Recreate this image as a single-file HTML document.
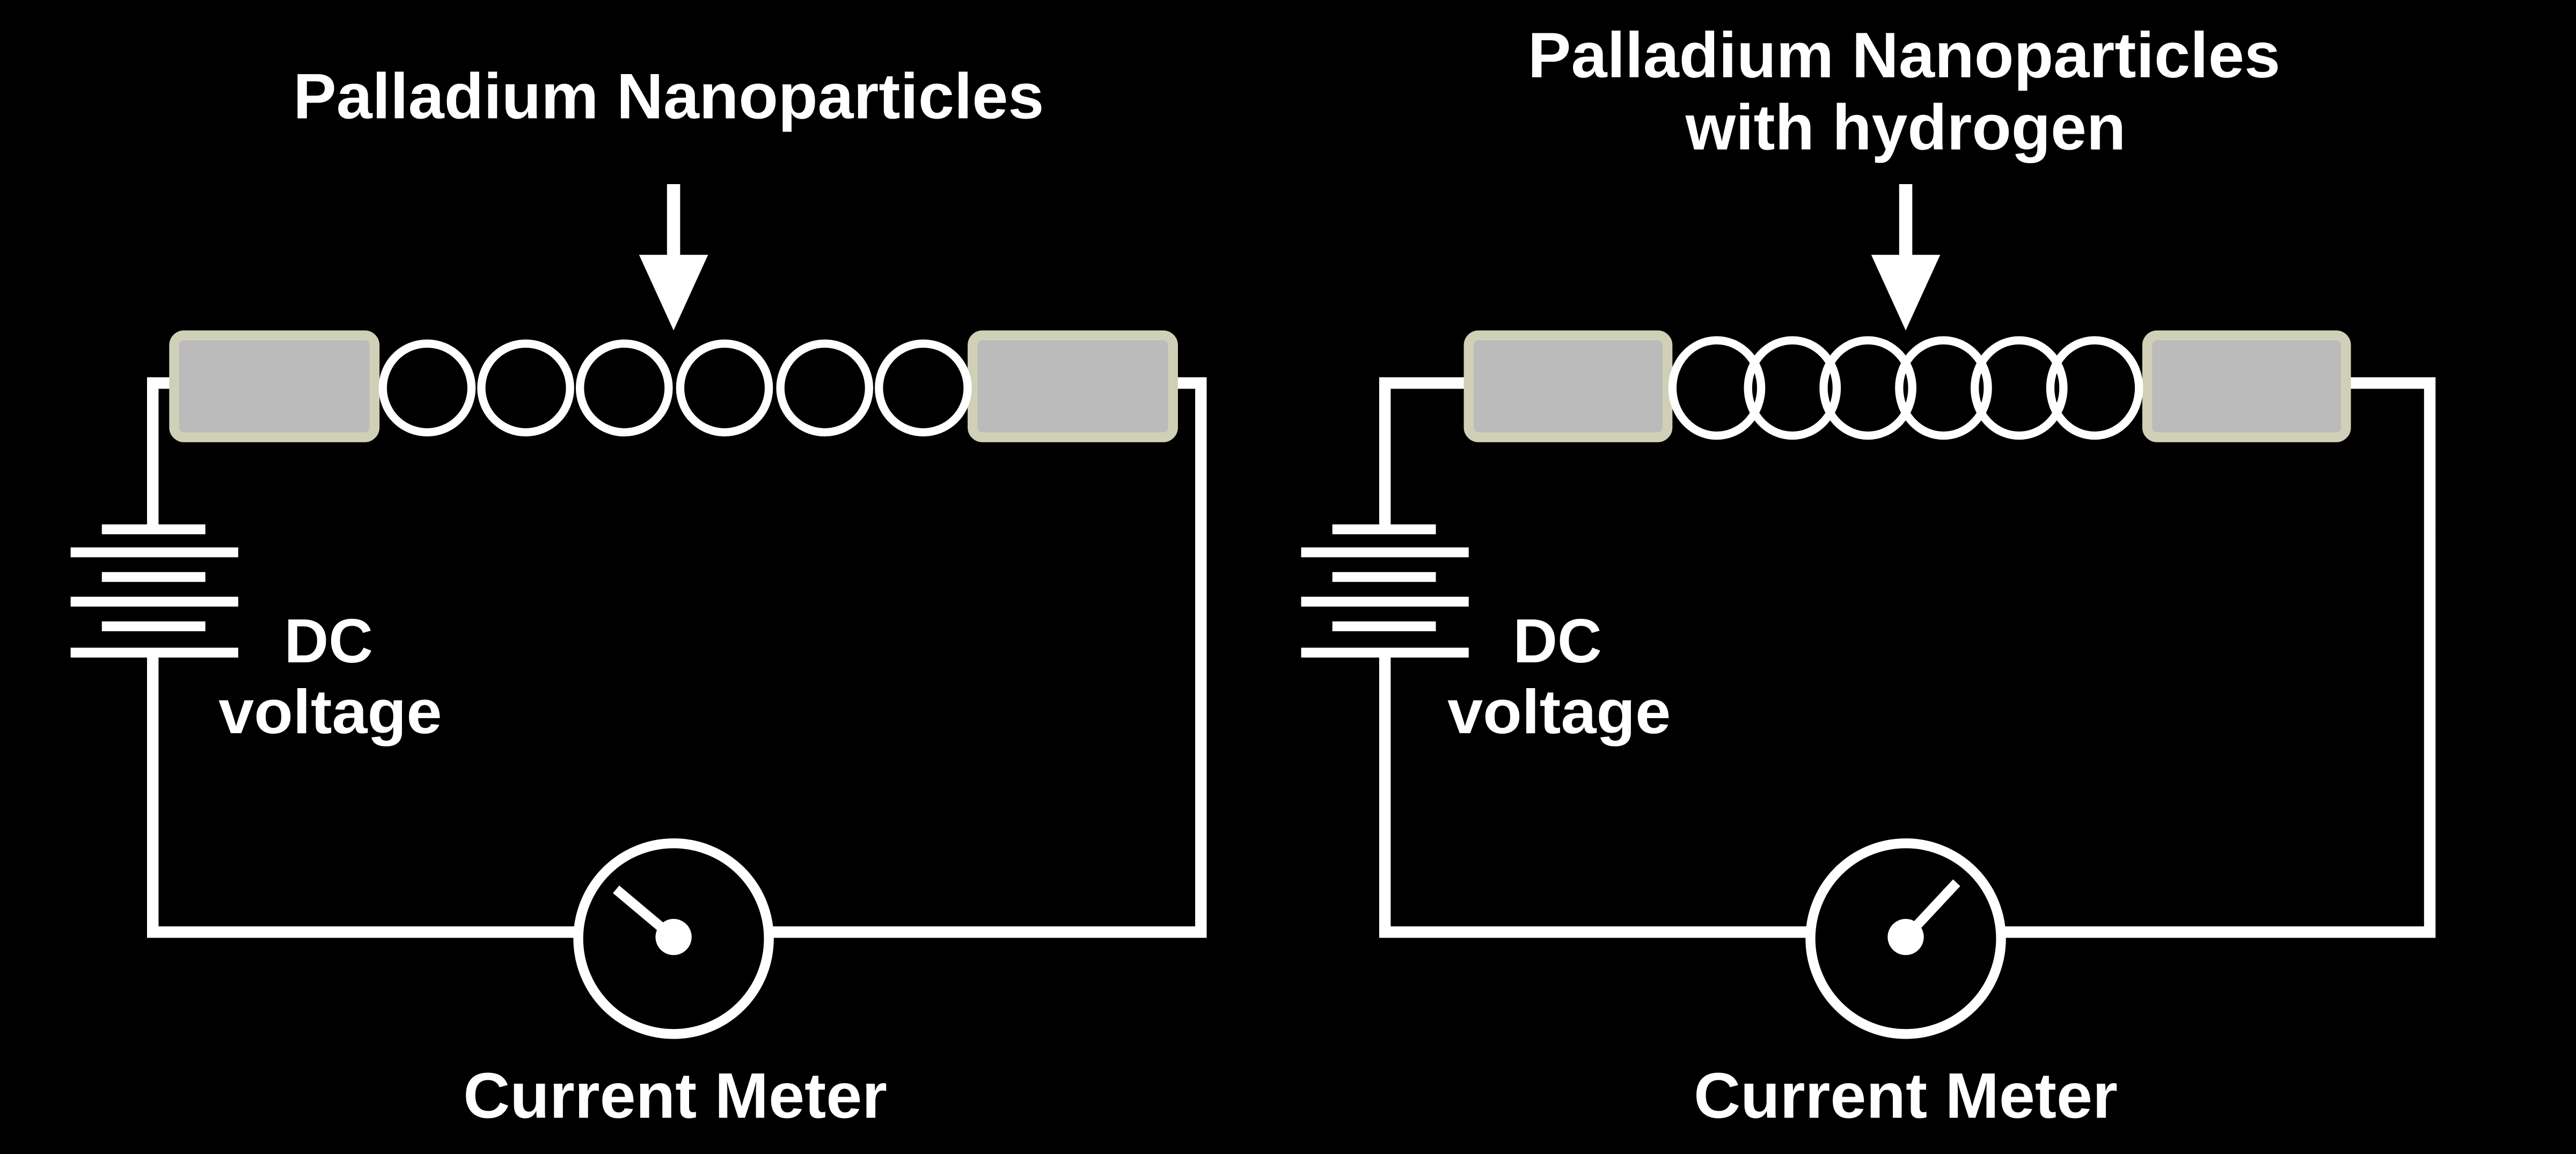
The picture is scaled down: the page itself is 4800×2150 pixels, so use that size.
<!DOCTYPE html>
<html><head><meta charset="utf-8"><style>
html,body{margin:0;padding:0;background:#000;}
svg{display:block;}
text{font-family:"Liberation Sans",sans-serif;font-weight:bold;fill:#fff;}
</style></head><body>
<svg width="4800" height="2150" viewBox="0 0 1568 702" preserveAspectRatio="none" xmlns="http://www.w3.org/2000/svg">
<rect width="1568" height="702" fill="#000"/>
<!-- LEFT -->
<g>
<polyline points="93,322 93,233 731,233 731,567 93,567 93,397" fill="none" stroke="#fff" stroke-width="7"/>
<rect x="228" y="225" width="366" height="16" fill="#000"/>
<rect x="106" y="204" width="122" height="62" rx="6" fill="#bbb" stroke="#d0d0b8" stroke-width="6"/>
<rect x="592" y="204" width="122" height="62" rx="6" fill="#bbb" stroke="#d0d0b8" stroke-width="6"/>
<g fill="none" stroke="#fff" stroke-width="5">
<ellipse cx="260" cy="236" rx="27" ry="27"/>
<ellipse cx="320" cy="236" rx="27" ry="27"/>
<ellipse cx="380" cy="236" rx="27" ry="27"/>
<ellipse cx="441" cy="236" rx="27" ry="27"/>
<ellipse cx="502" cy="236" rx="27" ry="27"/>
<ellipse cx="562" cy="236" rx="27" ry="27"/>
</g>
<rect x="406" y="112" width="8" height="48" fill="#fff"/>
<polygon points="389,155 431,155 410,201" fill="#fff"/>
<g fill="#fff">
<rect x="62" y="319" width="63" height="6"/>
<rect x="43" y="333" width="102" height="6"/>
<rect x="62" y="348" width="63" height="6"/>
<rect x="43" y="363" width="102" height="6"/>
<rect x="62" y="378" width="63" height="6"/>
<rect x="43" y="394" width="102" height="6"/>
</g>
<circle cx="410" cy="571" r="58" fill="#000" stroke="#fff" stroke-width="6"/>
<line x1="375" y1="541" x2="406" y2="567" stroke="#fff" stroke-width="6"/>
<circle cx="410" cy="570" r="11" fill="#fff"/>
<text x="407" y="72" font-size="39" text-anchor="middle" textLength="457" lengthAdjust="spacingAndGlyphs">Palladium Nanoparticles</text>
<text x="173" y="403" font-size="38" textLength="54" lengthAdjust="spacingAndGlyphs">DC</text>
<text x="133" y="446" font-size="38" textLength="136" lengthAdjust="spacingAndGlyphs">voltage</text>
<text x="411" y="680" font-size="39" text-anchor="middle" textLength="258" lengthAdjust="spacingAndGlyphs">Current Meter</text>
</g>
<!-- RIGHT -->
<g>
<polyline points="843,322 843,233 1479,233 1479,567 843,567 843,397" fill="none" stroke="#fff" stroke-width="7"/>
<rect x="1015" y="225" width="294" height="16" fill="#000"/>
<rect x="894" y="204" width="121" height="62" rx="6" fill="#bbb" stroke="#d0d0b8" stroke-width="6"/>
<rect x="1307" y="204" width="121" height="62" rx="6" fill="#bbb" stroke="#d0d0b8" stroke-width="6"/>
<g fill="none" stroke="#fff" stroke-width="5">
<ellipse cx="1045" cy="236" rx="27" ry="29"/>
<ellipse cx="1091" cy="236" rx="27" ry="29"/>
<ellipse cx="1137" cy="236" rx="27" ry="29"/>
<ellipse cx="1183" cy="236" rx="27" ry="29"/>
<ellipse cx="1229" cy="236" rx="27" ry="29"/>
<ellipse cx="1275" cy="236" rx="27" ry="29"/>
</g>
<rect x="1156" y="112" width="8" height="48" fill="#fff"/>
<polygon points="1139,155 1181,155 1160,201" fill="#fff"/>
<g fill="#fff">
<rect x="811" y="319" width="63" height="6"/>
<rect x="792" y="333" width="102" height="6"/>
<rect x="811" y="348" width="63" height="6"/>
<rect x="792" y="363" width="102" height="6"/>
<rect x="811" y="378" width="63" height="6"/>
<rect x="792" y="394" width="102" height="6"/>
</g>
<circle cx="1160" cy="571" r="58" fill="#000" stroke="#fff" stroke-width="6"/>
<line x1="1191" y1="537" x2="1163" y2="567" stroke="#fff" stroke-width="6"/>
<circle cx="1160" cy="570" r="11" fill="#fff"/>
<text x="1159" y="47" font-size="39" text-anchor="middle" textLength="458" lengthAdjust="spacingAndGlyphs">Palladium Nanoparticles</text>
<text x="1160" y="91" font-size="39" text-anchor="middle" textLength="268" lengthAdjust="spacingAndGlyphs">with hydrogen</text>
<text x="921" y="403" font-size="38" textLength="54" lengthAdjust="spacingAndGlyphs">DC</text>
<text x="881" y="446" font-size="38" textLength="136" lengthAdjust="spacingAndGlyphs">voltage</text>
<text x="1160" y="680" font-size="39" text-anchor="middle" textLength="258" lengthAdjust="spacingAndGlyphs">Current Meter</text>
</g>
</svg>
</body></html>
